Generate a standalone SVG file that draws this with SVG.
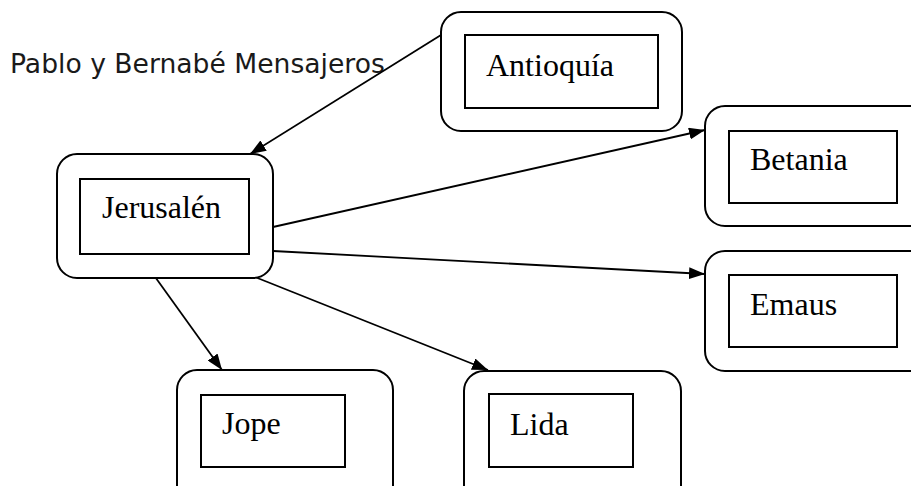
<svg xmlns="http://www.w3.org/2000/svg" width="911" height="486" viewBox="0 0 911 486">
<style>
.outer{fill:#fff;stroke:#000;stroke-width:2}
.inner{fill:#fff;stroke:#000;stroke-width:2}
.lbl{font-family:"Liberation Serif","Times New Roman",serif;font-size:32px;fill:#000}
.title{font-family:"DejaVu Sans",Verdana,sans-serif;font-size:26.6px;fill:#1a1a1a}
.edge{fill:none;stroke:#000;stroke-width:1.8;marker-end:url(#arr)}
</style>
<defs>
<marker id="arr" markerUnits="userSpaceOnUse" markerWidth="16" markerHeight="12" refX="16" refY="6" orient="auto">
<path d="M0,0 L16,6 L0,12 z" fill="#000"/>
</marker>
</defs>
<rect width="911" height="486" fill="#fff"/>
<text class="title" x="10" y="73">Pablo y Bernabé Mensajeros</text>
<g id="connectors">
<line class="edge" x1="441" y1="35" x2="250" y2="154"/>
<line class="edge" x1="273" y1="227" x2="705" y2="130"/>
<line class="edge" x1="273" y1="251" x2="705" y2="274"/>
<line class="edge" x1="153" y1="274" x2="222" y2="370"/>
<line class="edge" x1="250" y1="275" x2="488" y2="370"/>
</g>
<g id="antioquia">
<rect class="outer" x="441" y="12" width="241" height="119" rx="20"/>
<rect class="inner" x="465" y="35" width="193" height="73"/>
<text class="lbl" x="486" y="76">Antioquía</text>
</g>
<g id="jerusalen">
<rect class="outer" x="57" y="154" width="216" height="124" rx="20"/>
<rect class="inner" x="80" y="179" width="169" height="75"/>
<text class="lbl" x="102" y="218">Jerusalén</text>
</g>
<g id="betania">
<rect class="outer" x="705" y="106" width="230" height="120" rx="20"/>
<rect class="inner" x="729" y="131" width="168" height="72"/>
<text class="lbl" x="750" y="170">Betania</text>
</g>
<g id="emaus">
<rect class="outer" x="705" y="251" width="230" height="120" rx="20"/>
<rect class="inner" x="729" y="275" width="168" height="72"/>
<text class="lbl" x="750" y="315">Emaus</text>
</g>
<g id="jope">
<rect class="outer" x="177" y="370" width="216" height="140" rx="20"/>
<rect class="inner" x="201" y="395" width="144" height="72"/>
<text class="lbl" x="222" y="434">Jope</text>
</g>
<g id="lida">
<rect class="outer" x="464" y="371" width="217" height="140" rx="20"/>
<rect class="inner" x="489" y="394" width="144" height="73"/>
<text class="lbl" x="510" y="435">Lida</text>
</g>
</svg>
